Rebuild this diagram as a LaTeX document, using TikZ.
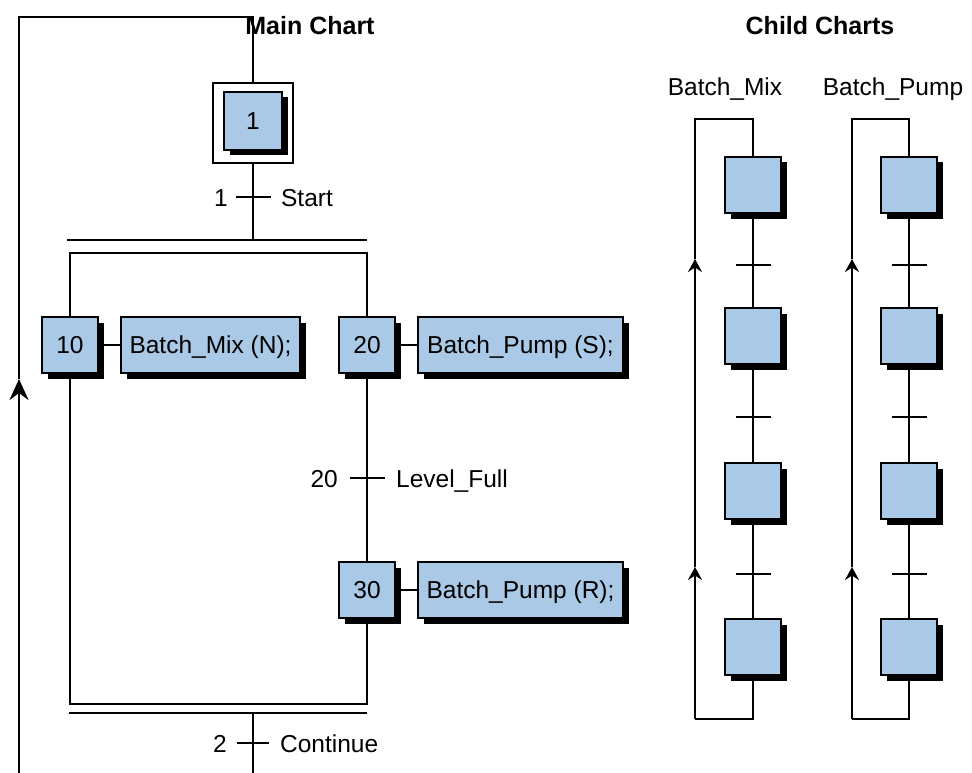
\documentclass[tikz,border=0pt]{standalone}
\usepackage{fontspec}
\setmainfont{Liberation Sans}
\usetikzlibrary{shadows,arrows.meta}
\definecolor{stepblue}{RGB}{169,201,230}
\begin{document}
\begin{tikzpicture}[x=1pt,y=-1pt, line width=2.3pt,
 every node/.style={font=\fontsize{24.5}{28}\selectfont, inner sep=0pt},
 stepbox/.style={draw, fill=stepblue, minimum width=56pt, minimum height=56pt,
   text height=17.5pt, text depth=0pt,
   drop shadow={shadow xshift=5.5pt, shadow yshift=-5.5pt, fill=black, opacity=1}},
 actbox/.style={stepbox, minimum width=#1},
 initbox/.style={draw, minimum width=80pt, minimum height=80pt},
 ttl/.style={font=\bfseries\fontsize{25}{30}\selectfont},
 upar/.style={-{Stealth[length=21pt,width=19pt,inset=7pt]}},
 smallar/.style={-{Stealth[length=13pt,width=14pt,inset=4.5pt]}}
]
\useasboundingbox (0,0) rectangle (972,773);

% titles
\node[ttl, anchor=base] (tmain) at (310,35) {Main Chart};
\node[ttl, anchor=base] (tchild) at (820,35) {Child Charts};

% ---------- Main chart ----------
\node[initbox] (init) at (253,123) {};
\node[stepbox, minimum width=58pt, minimum height=58pt] (s1) at (253,121) {1};

\node[stepbox] (s10) at (70,345) {10};
\node[actbox=179pt] (a10) at (210.5,345) {Batch\_Mix (N);};
\node[stepbox] (s20) at (367,345) {20};
\node[actbox=205pt] (a20) at (520.5,345) {Batch\_Pump (S);};
\node[stepbox] (s30) at (367,590) {30};
\node[actbox=205pt] (a30) at (520.5,590) {Batch\_Pump (R);};

\draw (s10) -- (a10);
\draw (s20) -- (a20);
\draw (s30) -- (a30);

% top loop
\coordinate (botL) at (19,773);
\coordinate (arrM) at (19,379);
\coordinate (topL) at (19,17);
\coordinate (topR) at (253,17);
\draw[upar] (botL) -- (arrM);
\draw (arrM) -- (topL) -- (topR) -- (init);

% transition 1
\coordinate (dtop) at (253,240);
\coordinate (t1) at (253,197);
\draw (init) -- (dtop);
\draw ([xshift=-17.5pt]t1) -- ([xshift=17.5pt]t1);
\node[anchor=base east] (t1n) at (229,206) {1};
\node[anchor=base west] (t1l) at (280,206) {Start};

% simultaneous divergence
\coordinate (dl1) at (67,240);
\coordinate (dl2) at (367,240);
\draw (dl1) -- (dl2);
\coordinate (rTL) at (70,253);
\coordinate (rTR) at (367,253);
\coordinate (rBL) at (70,704);
\coordinate (rBR) at (367,704);
\draw (s10) -- (rTL) -- (rTR) -- (s20);
\draw (s20) -- (s30);
\draw (s30) -- (rBR) -- (rBL) -- (s10);

% transition 20
\coordinate (t20) at (367,478);
\draw ([xshift=-17.5pt]t20) -- ([xshift=17.5pt]t20);
\node[anchor=base east] (t20n) at (339,487) {20};
\node[anchor=base west] (t20l) at (395,487) {Level\_Full};

% simultaneous convergence
\coordinate (cl1) at (69,713);
\coordinate (cl2) at (367,713);
\draw (cl1) -- (cl2);
\coordinate (cmid) at (253,713);
\coordinate (botM) at (253,773);
\draw (cmid) -- (botM);
\coordinate (t2) at (253,743);
\draw ([xshift=-16pt]t2) -- ([xshift=16pt]t2);
\node[anchor=base east] (t2n) at (228,752) {2};
\node[anchor=base west] (t2l) at (279,752) {Continue};

% ---------- Child charts ----------
\foreach \p/\xl/\xr/\lx/\name in {a/695/753/725/Batch\_Mix, b/852/909/893/Batch\_Pump}{
  \node[anchor=base] (\p lab) at (\lx,96) {\name};
  \node[stepbox] (\p1) at (\xr,185) {};
  \node[stepbox] (\p2) at (\xr,336) {};
  \node[stepbox] (\p3) at (\xr,491) {};
  \node[stepbox] (\p4) at (\xr,647) {};
  \draw (\p1) -- (\p2);
  \draw (\p2) -- (\p3);
  \draw (\p3) -- (\p4);
  \foreach \ty in {265,417,574}{
    \coordinate (\p t\ty) at (\xr,\ty);
    \draw ([xshift=-17.5pt]\p t\ty) -- ([xshift=17.5pt]\p t\ty);
  }
  \coordinate (\p BR) at (\xr,719);
  \coordinate (\p BL) at (\xl,719);
  \coordinate (\p A1) at (\xl,567);
  \coordinate (\p A2) at (\xl,259);
  \coordinate (\p TL) at (\xl,119);
  \coordinate (\p TR) at (\xr,119);
  \draw (\p4) -- (\p BR) -- (\p BL);
  \draw[smallar] (\p BL) -- (\p A1);
  \draw[smallar] (\p A1) -- (\p A2);
  \draw (\p A2) -- (\p TL) -- (\p TR) -- (\p1);
}
\end{tikzpicture}
\end{document}
